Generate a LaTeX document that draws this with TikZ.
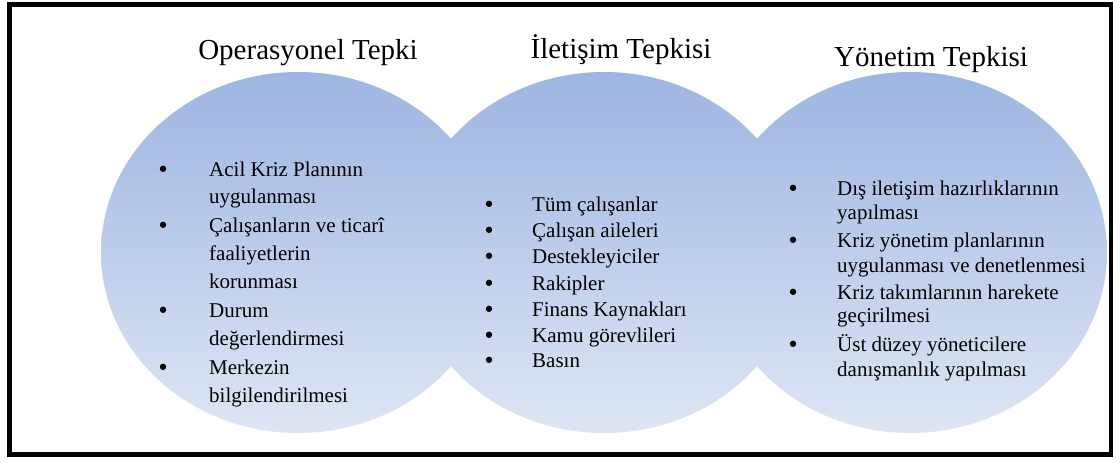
\documentclass[tikz,border=0pt]{standalone}
\usepackage{fontspec}
\setmainfont{Liberation Serif}
\definecolor{elltop}{RGB}{157,181,226}
\definecolor{ellbot}{RGB}{222,230,244}
\begin{document}
\begin{tikzpicture}[x=1pt,y=1pt,
  ell/.style={top color=elltop,bottom color=ellbot,draw=none},
  ttl/.style={anchor=base,inner sep=0pt,font=\fontsize{29}{34}\selectfont},
  itm/.style={anchor=base west,inner sep=0pt,font=\fontsize{21}{25}\selectfont},
  bul/.style={circle,fill=black,inner sep=0pt,minimum size=6.4pt,yshift=8.2pt}]
\useasboundingbox (0,0) rectangle (1120,463);
\fill[white] (0,0) rectangle (1120,463);
% ellipses
\shade[ell] (298,210.5) ellipse [x radius=197,y radius=180.5];
\shade[ell] (604,210.5) ellipse [x radius=197,y radius=180.5];
\shade[ell] (910,210.5) ellipse [x radius=197,y radius=180.5];
% frame
\draw[line width=4.6pt] (9.7,458.3) rectangle (1111,8.7);
% titles
\node[ttl] (t1) at (308,403) {Operasyonel Tepki};
\node[ttl] (t2) at (621,404) {İletişim Tepkisi};
\node[ttl] (t3) at (931,396) {Yönetim Tepkisi};
% list 1
\node[bul] (b11) at (163,286) {};
\node[bul] (b12) at (163,230) {};
\node[bul] (b13) at (163,145) {};
\node[bul] (b14) at (163,88) {};
\node[itm] (a1) at (209,286) {Acil Kriz Planının};
\node[itm] (a2) at (209,259) {uygulanması};
\node[itm] (a3) at (209,230) {Çalışanların ve ticarî};
\node[itm] (a4) at (209,202) {faaliyetlerin};
\node[itm] (a5) at (209,174) {korunması};
\node[itm] (a6) at (209,145) {Durum};
\node[itm] (a7) at (209,117) {değerlendirmesi};
\node[itm] (a8) at (209,88) {Merkezin};
\node[itm] (a9) at (209,60) {bilgilendirilmesi};
% list 2
\node[bul] (b21) at (489,251) {};
\node[bul] (b22) at (489,225) {};
\node[bul] (b23) at (489,199) {};
\node[bul] (b24) at (489,172) {};
\node[bul] (b25) at (489,146) {};
\node[bul] (b26) at (489,120) {};
\node[bul] (b27) at (489,95) {};
\node[itm] (m1) at (532,251) {Tüm çalışanlar};
\node[itm] (m2) at (532,225) {Çalışan aileleri};
\node[itm] (m3) at (532,199) {Destekleyiciler};
\node[itm] (m4) at (532,172) {Rakipler};
\node[itm] (m5) at (532,146) {Finans Kaynakları};
\node[itm] (m6) at (532,120) {Kamu görevlileri};
\node[itm] (m7) at (532,95) {Basın};
% list 3
\node[bul] (b31) at (793,267) {};
\node[bul] (b32) at (793,215) {};
\node[bul] (b33) at (793,163) {};
\node[bul] (b34) at (793,111) {};
\node[itm] (y1) at (837,267) {Dış iletişim hazırlıklarının};
\node[itm] (y2) at (837,243) {yapılması};
\node[itm] (y3) at (837,215) {Kriz yönetim planlarının};
\node[itm] (y4) at (837,190) {uygulanması ve denetlenmesi};
\node[itm] (y5) at (837,163) {Kriz takımlarının harekete};
\node[itm] (y6) at (837,140) {geçirilmesi};
\node[itm] (y7) at (837,111) {Üst düzey yöneticilere};
\node[itm] (y8) at (837,86) {danışmanlık yapılması};
\end{tikzpicture}
\end{document}
